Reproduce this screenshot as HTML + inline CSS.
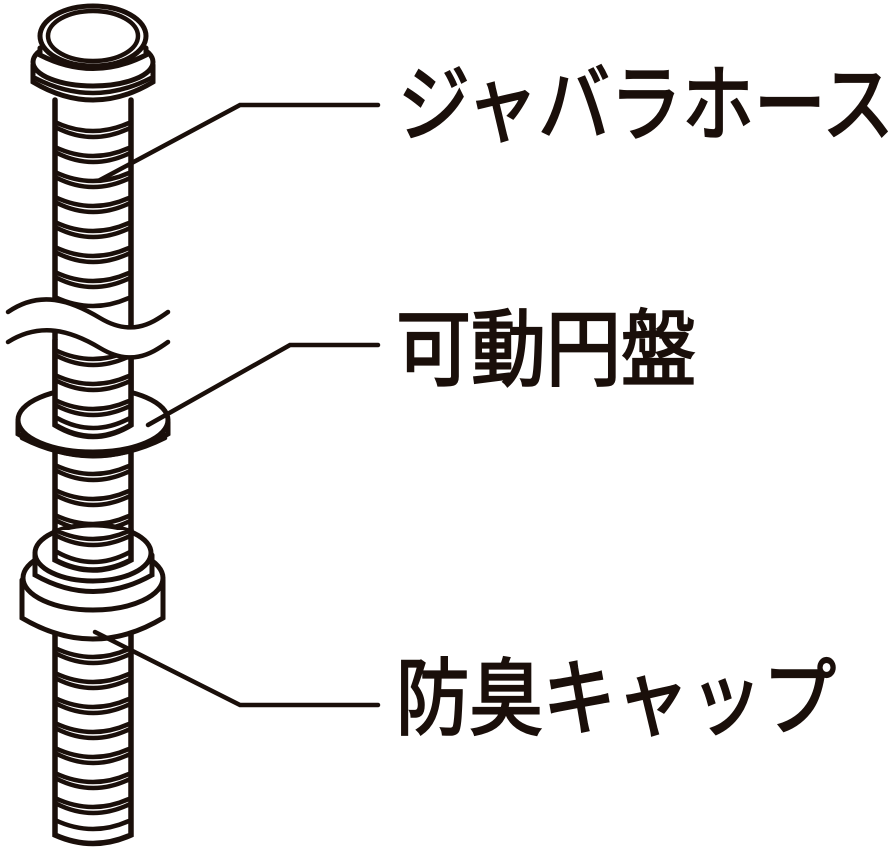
<!DOCTYPE html>
<html><head><meta charset="utf-8"><style>
html,body{margin:0;padding:0;background:#fff;}
svg{display:block}
text{font-family:"Liberation Sans","Noto Sans CJK JP",sans-serif;fill:#1a0f0a;font-size:84px;font-weight:normal;stroke:#1a0f0a;stroke-width:2.2px;}
</style></head><body>
<svg width="896" height="856" viewBox="0 0 896 856" xmlns="http://www.w3.org/2000/svg">
<g fill="none" stroke="#1a0f0a" stroke-width="4.5" stroke-linecap="round">
<path d="M55,100 V835 Q93,852 131,835 V100" fill="#fff" stroke-width="5.5"/>
<g stroke-width="4.5">
<path d="M55,122 Q93,140 131,122 M57,128 Q93,146 130,128"/>
<path d="M55,147 Q93,165 131,147 M57,153 Q93,171 130,153"/>
<path d="M55,172 Q93,190 131,172 M57,178 Q93,196 130,178"/>
<path d="M55,197 Q93,215 131,197 M57,203 Q93,221 130,203"/>
<path d="M55,222 Q93,240 131,222 M57,228 Q93,246 130,228"/>
<path d="M55,247 Q93,265 131,247 M57,253 Q93,271 130,253"/>
<path d="M55,272 Q93,290 131,272 M57,278 Q93,296 130,278"/>
<path d="M55,297 Q93,315 131,297"/>
<path d="M55,465 Q93,483 131,465 M57,471 Q93,489 130,471"/>
<path d="M55,490 Q93,508 131,490 M57,496 Q93,514 130,496"/>
<path d="M55,515 Q93,533 131,515 M57,521 Q93,539 130,521"/>
<path d="M55,648 Q93,666 131,648 M57,654 Q93,672 130,654"/>
<path d="M55,673 Q93,691 131,673 M57,679 Q93,697 130,679"/>
<path d="M55,698 Q93,716 131,698 M57,704 Q93,722 130,704"/>
<path d="M55,723 Q93,741 131,723 M57,729 Q93,747 130,729"/>
<path d="M55,748 Q93,766 131,748 M57,754 Q93,772 130,754"/>
<path d="M55,773 Q93,791 131,773 M57,779 Q93,797 130,779"/>
<path d="M55,798 Q93,816 131,798 M57,804 Q93,822 130,804"/>
<path d="M55,820 Q93,838 131,820"/>
</g>
<path d="M33,65 V82 Q93,118 153,82 V65" fill="#fff" stroke-width="5"/>
<ellipse cx="93" cy="62" rx="60" ry="24" fill="#fff" stroke-width="5"/>
<path d="M35,78 Q93,108 151,78"/>
<path d="M40,48 V55 Q93,82 146,55 V48" fill="#fff" stroke-width="5"/>
<ellipse cx="93" cy="36" rx="53" ry="30" fill="#fff" stroke-width="5"/>
<ellipse cx="93" cy="36" rx="45" ry="25"/>
<path d="M18,422 V434 Q93,478 168,434 V422" fill="#fff" stroke-width="5"/>
<ellipse cx="93" cy="420" rx="75" ry="32" fill="#fff" stroke-width="5"/>
<path d="M22,438 Q93,474 165,438"/>
<path d="M55,340 V425 Q93,448 131,425 V340" fill="#fff" stroke-width="5.5"/>
<path d="M55,350 Q93,368 131,350 M57,356 Q93,374 130,356"/>
<path d="M55,375 Q93,393 131,375 M57,381 Q93,399 130,381"/>
<path d="M55,400 Q93,418 131,400 M57,406 Q93,424 130,406"/>
<path d="M57,418 Q93,438 130,418"/>
<path d="M8,312 C40,290 70,300 100,318 C130,336 150,325 168,312 L168,342 C150,355 130,366 100,348 C70,330 40,322 8,342 Z" fill="#fff" stroke="none"/>
<path d="M8,312 C40,290 70,300 100,318 C130,336 150,325 168,312"/>
<path d="M8,342 C40,322 70,330 100,348 C130,366 150,355 168,342"/>
<path d="M22,580 V618 Q93,660 163,618 V580" fill="#fff" stroke-width="5"/>
<ellipse cx="93" cy="578" rx="70" ry="32" fill="#fff" stroke-width="5"/>
<path d="M35,555 V575 Q93,608 152,575 V555" fill="#fff" stroke-width="5"/>
<ellipse cx="93" cy="553" rx="58" ry="28" fill="#fff" stroke-width="5"/>
<path d="M55,530 V560 Q93,580 131,560 V530" fill="#fff" stroke-width="5.5"/>
<path d="M55,530 Q93,548 131,530 M57,536 Q93,554 130,536"/>
<path d="M57,552 Q93,572 130,552"/>
<path d="M100,180 L240,105 H378" stroke-width="4.5"/>
<path d="M148,425 L290,345 H378" stroke-width="4.5"/>
<path d="M95,632 L240,705 H378" stroke-width="4.5"/>
</g>
<text x="398" y="134" textLength="496" lengthAdjust="spacingAndGlyphs">ジャバラホース</text>
<text x="396" y="379" textLength="300" lengthAdjust="spacingAndGlyphs">可動円盤</text>
<text x="396" y="728" textLength="440" lengthAdjust="spacingAndGlyphs">防臭キャップ</text>
</svg>
</body></html>
